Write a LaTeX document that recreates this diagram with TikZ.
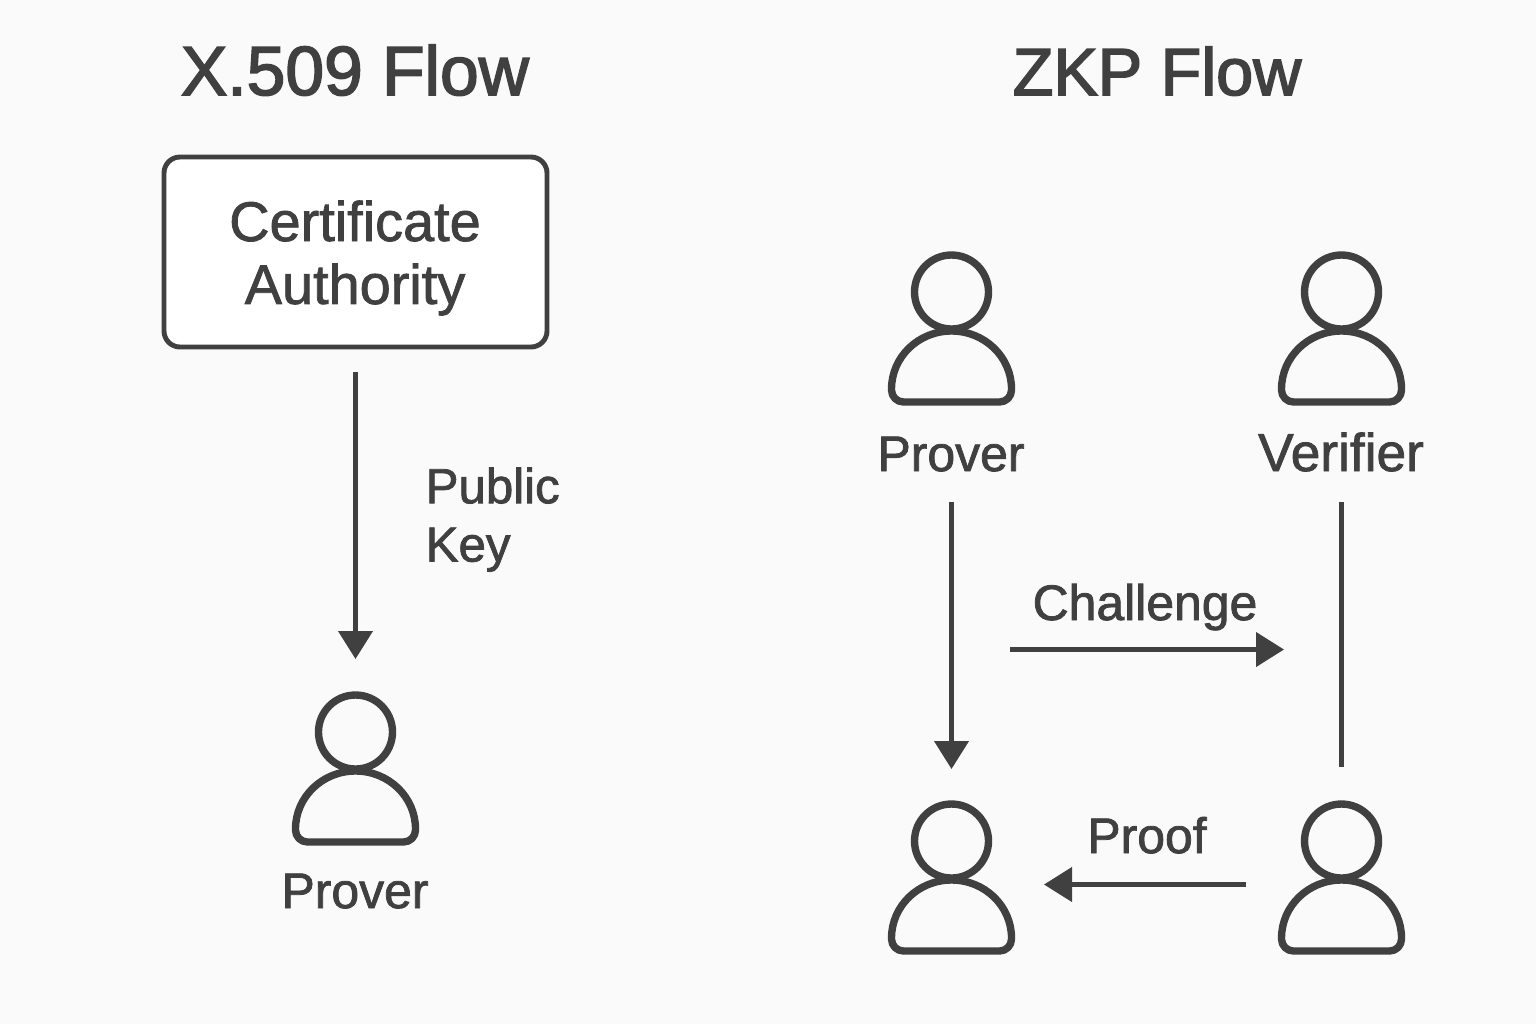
\documentclass[tikz,border=0pt]{standalone}
\usepackage{fontspec}
\setmainfont{Liberation Sans}
\usetikzlibrary{arrows.meta,calc,positioning}

\definecolor{inkgray}{HTML}{404040}
\definecolor{paper}{HTML}{FAFAFA}

\tikzset{
  heavier/.style={execute at begin node={\special{pdf:code 2 Tr #1 w}},
    execute at end node={\special{pdf:code 0 Tr}}},
  flowtitle/.style={anchor=base,text=inkgray,heavier=0.45,font=\fontsize{19.8}{22}\selectfont},
  flowlabel/.style={anchor=base,text=inkgray,heavier=0.22,font=\fontsize{14.2}{16.8}\selectfont},
  cabox/.style={draw=inkgray,fill=white,line width=1.4pt,rounded corners=0.16cm,
    minimum width=3.83cm,minimum height=1.90cm},
  flowline/.style={draw=inkgray,line width=1.2pt},
  flowarrow/.style={flowline,-{Triangle[length=0.28cm,width=0.34cm]}},
  pics/person/.style={code={
    \draw[inkgray,line width=2.1pt] (0,0) circle (0.37);
    \draw[inkgray,line width=2.1pt,line join=round] (-0.60,-0.97)
      arc[start angle=180,end angle=0,x radius=0.60,y radius=0.58]
      -- (0.60,-0.98) arc[start angle=0,end angle=-90,radius=0.12]
      -- (-0.48,-1.10) arc[start angle=270,end angle=180,radius=0.12] -- cycle;
    \coordinate (-top) at (0,0.41);
  }},
}

\begin{document}
\begin{tikzpicture}
  \fill[paper] (0,0) rectangle (15.36,-10.24);
  \useasboundingbox (0,0) rectangle (15.36,-10.24);

  % left flow
  \node[flowtitle] (xtitle) at (3.55,-0.95) {X.509 Flow};
  \node[cabox] (ca) at (3.555,-2.52) {};
  \node[flowlabel,align=center,font=\fontsize{15.9}{17.9}\selectfont,anchor=center] (calabel) at (3.55,-2.58) {Certificate\\Authority};
  \pic (caprover) at (3.555,-7.32) {person};
  \node[flowlabel] (caproverlabel) at (3.55,-9.08) {Prover};
  \node[flowlabel,anchor=base west,align=left,inner sep=0pt,font=\fontsize{14}{16.6}\selectfont] (keylabel) at (4.25,-5.615) {Public\\Key};
  \draw[flowarrow,shorten <=0.23cm,shorten >=0.32cm] (ca.south) -- (caprover-top);

  % right flow
  \node[flowtitle] (ztitle) at (11.57,-0.95) {\fontsize{18.95}{22}\selectfont ZKP Flow};
  \pic (prover) at (9.515,-2.92) {person};
  \pic (verifier) at (13.415,-2.92) {person};
  \pic (proverb) at (9.515,-8.41) {person};
  \pic (verifierb) at (13.415,-8.41) {person};
  \node[flowlabel] (proverlabel) at (9.51,-4.71) {Prover};
  \node[flowlabel,font=\fontsize{15.15}{17}\selectfont] (verifierlabel) at (13.41,-4.71) {Verifier};
  \node[flowlabel] (challengelabel) at (11.45,-6.20) {Challenge};
  \node[flowlabel] (prooflabel) at (11.47,-8.53) {Proof};

  \coordinate (pa) at (9.515,-5.02);
  \coordinate (pb) at (9.515,-7.69);
  \coordinate (va) at (13.415,-5.02);
  \coordinate (vb) at (13.415,-7.67);
  \coordinate (ca1) at (10.10,-6.495);
  \coordinate (ca2) at (12.84,-6.495);
  \coordinate (pr1) at (12.46,-8.845);
  \coordinate (pr2) at (10.44,-8.845);
  \draw[flowarrow] (pa) -- (pb);
  \draw[flowline] (va) -- (vb);
  \draw[flowarrow] (ca1) -- (ca2);
  \draw[flowarrow] (pr1) -- (pr2);
\end{tikzpicture}
\end{document}
